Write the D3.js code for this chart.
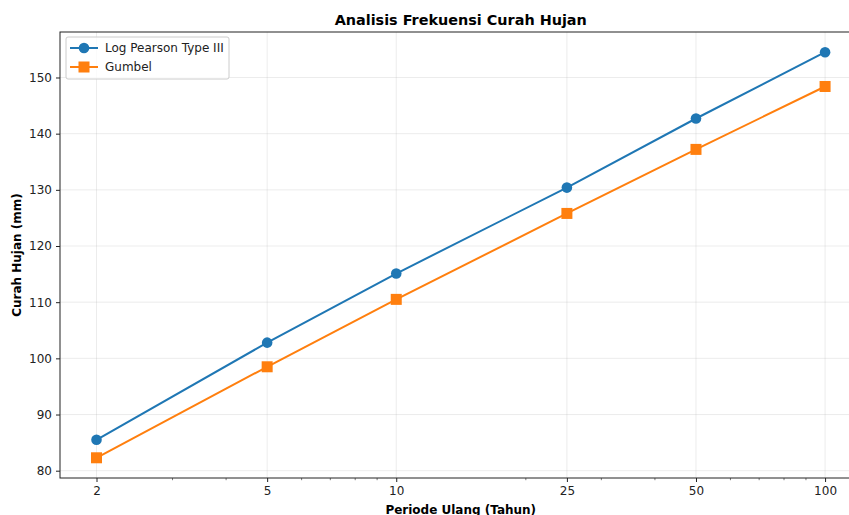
<!DOCTYPE html>
<html><head><meta charset="utf-8">
<script src="https://cdn.jsdelivr.net/npm/d3@7"></script>
<style>body{margin:0;background:#fff}svg{display:block;font-family:"DejaVu Sans",sans-serif}</style>
</head><body><svg id="c" width="849" height="515"></svg>
<script>
const periods = [2, 5, 10, 25, 50, 100];
const logPearson = [85.5, 102.8, 115.1, 130.4, 142.7, 154.5];
const gumbel = [82.3, 98.5, 110.5, 125.8, 137.2, 148.4];
const xTicks = [2, 5, 10, 25, 50, 100];
const xMinor = [3, 4, 6, 7, 8, 9, 20, 30, 40, 60, 70, 80, 90];
const yTicks = [80, 90, 100, 110, 120, 130, 140, 150];

const svg = d3.select("#c");
const L = 60, T = 32, R = 861.5, B = 478;
const x = d3.scaleLog().domain([1.644, 121.6]).range([L, R]);
const y = d3.scaleLinear().domain([78.7, 158.1]).range([B, T]);

// grid
const g = svg.append("g");
g.selectAll(".gx").data(xTicks).join("line")
  .attr("x1", d => x(d)).attr("x2", d => x(d)).attr("y1", T).attr("y2", B)
  .attr("stroke", "#b0b0b0").attr("stroke-opacity", 0.3).attr("stroke-width", 0.8);
g.selectAll(".gy").data(yTicks).join("line")
  .attr("y1", d => y(d)).attr("y2", d => y(d)).attr("x1", L).attr("x2", R)
  .attr("stroke", "#b0b0b0").attr("stroke-opacity", 0.3).attr("stroke-width", 0.8);

// axes
const xAxis = d3.axisBottom(x).tickValues(xTicks).tickFormat(d3.format("d")).tickSize(4).tickPadding(4);
const xa = svg.append("g").attr("transform", `translate(0,${B})`).call(xAxis);
xa.select(".domain").remove();
xa.selectAll("text").attr("font-size", 12).attr("fill", "#222").attr("font-family", "DejaVu Sans");
xa.selectAll("line").attr("stroke", "#222");
const xm = d3.axisBottom(x).tickValues(xMinor).tickFormat("").tickSize(2.2);
const xma = svg.append("g").attr("transform", `translate(0,${B})`).call(xm);
xma.select(".domain").remove();
xma.selectAll("line").attr("stroke", "#222").attr("stroke-width", 0.6);

const yAxis = d3.axisLeft(y).tickValues(yTicks).tickSize(4).tickPadding(4);
const ya = svg.append("g").attr("transform", `translate(${L},0)`).call(yAxis);
ya.select(".domain").remove();
ya.selectAll("text").attr("font-size", 12).attr("fill", "#222").attr("font-family", "DejaVu Sans");
ya.selectAll("line").attr("stroke", "#222");

// frame
svg.append("rect").attr("x", L).attr("y", T).attr("width", R - L).attr("height", B - T)
  .attr("fill", "none").attr("stroke", "#222").attr("stroke-width", 1);

// series
const line = d3.line().x((d, i) => x(periods[i])).y(d => y(d));
svg.append("path").datum(logPearson).attr("d", line).attr("fill", "none")
  .attr("stroke", "#1f77b4").attr("stroke-width", 2);
svg.append("path").datum(gumbel).attr("d", line).attr("fill", "none")
  .attr("stroke", "#ff7f0e").attr("stroke-width", 2);
svg.selectAll(".c").data(logPearson).join("circle")
  .attr("cx", (d, i) => x(periods[i])).attr("cy", d => y(d)).attr("r", 5.3).attr("fill", "#1f77b4");
svg.selectAll(".s").data(gumbel).join("rect")
  .attr("x", (d, i) => x(periods[i]) - 5.5).attr("y", d => y(d) - 5.5)
  .attr("width", 11).attr("height", 11).attr("fill", "#ff7f0e");

// titles
svg.append("text").attr("x", (L + R) / 2).attr("y", 24.5).attr("text-anchor", "middle")
  .attr("font-size", 14.4).attr("font-weight", "bold").attr("fill", "#000").text("Analisis Frekuensi Curah Hujan");
svg.append("text").attr("x", (L + R) / 2).attr("y", 514).attr("text-anchor", "middle")
  .attr("font-size", 12).attr("font-weight", "bold").attr("fill", "#000").text("Periode Ulang (Tahun)");
svg.append("text").attr("transform", `translate(21,${(T + B) / 2}) rotate(-90)`).attr("text-anchor", "middle")
  .attr("font-size", 12).attr("font-weight", "bold").attr("fill", "#000").text("Curah Hujan (mm)");

// legend
const lg = svg.append("g");
lg.append("rect").attr("x", 66).attr("y", 37).attr("width", 163).attr("height", 42).attr("rx", 2)
  .attr("fill", "#fff").attr("fill-opacity", 0.8).attr("stroke", "#ccc");
const items = [{n: "Log Pearson Type III", c: "#1f77b4", m: "circle"}, {n: "Gumbel", c: "#ff7f0e", m: "square"}];
items.forEach((it, i) => {
  const yy = 48 + i * 19;
  lg.append("line").attr("x1", 70).attr("x2", 98).attr("y1", yy).attr("y2", yy).attr("stroke", it.c).attr("stroke-width", 2);
  if (it.m === "circle") lg.append("circle").attr("cx", 84).attr("cy", yy).attr("r", 5.3).attr("fill", it.c);
  else lg.append("rect").attr("x", 78.5).attr("y", yy - 5.5).attr("width", 11).attr("height", 11).attr("fill", it.c);
  lg.append("text").attr("x", 105).attr("y", yy + 4.3).attr("font-size", 12).attr("fill", "#222").text(it.n);
});
</script></body></html>
